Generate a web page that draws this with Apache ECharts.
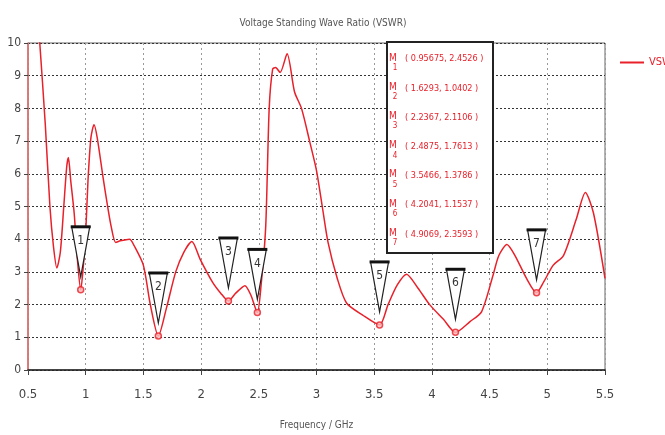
<!DOCTYPE html>
<html><head><meta charset="utf-8">
<script src="https://cdn.jsdelivr.net/npm/echarts@6/dist/echarts.min.js"></script>
<style>html,body{margin:0;padding:0;background:#fff}#c{width:665px;height:435px}</style>
</head><body><div id="c"></div>
<script>
const FONT = '"Liberation Sans Narrow","DejaVu Sans Condensed","Liberation Sans",sans-serif';
const freq = [0.5,0.6,0.65,0.69,0.72,0.75,0.78,0.81,0.835,0.85,0.87,0.9,0.93,0.957,0.98,1.0,1.02,1.045,1.072,1.1,1.15,1.19,1.22,1.26,1.3,1.38,1.42,1.5,1.56,1.6293,1.7,1.78,1.85,1.92,1.99,2.1,2.17,2.2367,2.3,2.38,2.43,2.4875,2.52,2.56,2.59,2.62,2.645,2.685,2.745,2.81,2.87,2.94,3.0,3.05,3.1,3.18,3.26,3.4,3.5466,3.62,3.7,3.78,3.88,3.98,4.1,4.2041,4.33,4.43,4.53,4.58,4.65,4.72,4.82,4.9069,4.97,5.05,5.14,5.25,5.33,5.4,5.5];
const vswr = [15,10.1,7.5,5.0,3.8,3.12,3.6,5.0,6.2,6.5,5.8,4.8,3.3,2.45,3.2,4.2,5.8,7.1,7.5,7.1,5.9,5.0,4.4,3.9,3.95,4.0,3.8,3.2,2.0,1.04,1.9,3.0,3.6,3.93,3.4,2.68,2.35,2.11,2.35,2.58,2.3,1.76,2.6,4.4,8.0,9.2,9.25,9.1,9.67,8.5,8.0,7.0,6.1,5.0,3.9,2.8,2.05,1.68,1.38,2.0,2.6,2.93,2.5,2.0,1.55,1.15,1.48,1.78,2.9,3.5,3.84,3.5,2.8,2.36,2.7,3.2,3.5,4.6,5.43,4.8,2.8];
const markerFreq = [0.95675,1.6293,2.2367,2.4875,3.5466,4.2041,4.9069];
const markerVSWR = [2.4526,1.0402,2.1106,1.7613,1.3786,1.1537,2.3593];
const markerIds = [1,2,3,4,5,6,7];
const xTicks = ['0.5','1','1.5','2','2.5','3','3.5','4','4.5','5','5.5'];

const RED = '#e8202a';
const chart = echarts.init(document.getElementById('c'));

const graphics = [{type:'rect', shape:{x:387,y:42,width:106,height:211}, style:{fill:'#fff',stroke:'#222',lineWidth:2}, z:100}];
markerIds.forEach((id,i)=>{
  const y = 58 + i*29.2;
  graphics.push({type:'text', x:393, y:y, z:101, style:{text:'M', font:'10px '+FONT, fill:RED, align:'center', verticalAlign:'middle'}});
  graphics.push({type:'text', x:395, y:y+10, z:101, style:{text:String(id), font:'8px '+FONT, fill:RED, align:'center', verticalAlign:'middle'}});
  graphics.push({type:'text', x:405, y:y+1, z:101, style:{text:'( '+markerFreq[i]+', '+markerVSWR[i]+' )', font:'9px '+FONT, fill:RED, align:'left', verticalAlign:'middle'}});
});

chart.setOption({
  animation:false,
  title:{text:'Voltage Standing Wave Ratio (VSWR)', left:318, textAlign:'center', top:13, textStyle:{fontSize:10, fontWeight:'normal', color:'#555', fontFamily:FONT}},
  legend:{data:['VSWR'], left:615, top:52, itemWidth:24, itemHeight:10, icon:'path://M0,4 L24,4 L24,6 L0,6 Z', textStyle:{color:RED, fontSize:11, fontFamily:FONT}, itemGap:2},
  grid:{left:28, right:60, top:43, bottom:58, show:true, borderColor:'#666', borderWidth:1},
  xAxis:{type:'value', min:0.5, max:5.5, interval:0.5, name:'Frequency / GHz', nameLocation:'middle', nameGap:50,
    nameTextStyle:{fontSize:10, color:'#555', fontFamily:FONT},
    axisLine:{lineStyle:{color:'#222', width:1.5}}, axisTick:{show:true, length:5, lineStyle:{color:'#444'}},
    axisLabel:{margin:18, fontSize:13, color:'#444', fontFamily:FONT, formatter:(v,i)=>xTicks[i]},
    splitLine:{show:true, lineStyle:{color:'#999', type:[2,3], width:1}}},
  yAxis:{type:'value', min:0, max:10, interval:1,
    axisLine:{show:true, lineStyle:{color:'#e86a6a', width:1.5}}, axisTick:{show:true, length:4, lineStyle:{color:'#444'}},
    axisLabel:{margin:7, fontSize:12, color:'#444', fontFamily:FONT},
    splitLine:{show:true, lineStyle:{color:'#333', type:[2,2], width:1}}},
  series:[
    {name:'VSWR', type:'line', data:freq.map((f,i)=>[f,vswr[i]]), smooth:0.25, symbol:'none', lineStyle:{color:RED, width:1.5}, itemStyle:{color:RED}, clip:true, z:3},
    {name:'markers', type:'scatter', data:markerFreq.map((f,i)=>[f,markerVSWR[i]]), symbol:'circle', symbolSize:6, itemStyle:{color:'#fbb', borderColor:RED, borderWidth:1.5}, z:4},
    {name:'labels', type:'custom', data:markerFreq.map((f,i)=>[f,markerVSWR[i],markerIds[i]]), z:5,
      renderItem:(params, api)=>{
        const p = api.coord([api.value(0), api.value(1)]);
        const tipY = p[1]-13, topY = tipY-50, hw = 9;
        return {type:'group', children:[
          {type:'polygon', shape:{points:[[p[0]-hw,topY],[p[0]+hw,topY],[p[0],tipY]]}, style:{fill:'#fff', stroke:'#222', lineWidth:1.2}},
          {type:'rect', shape:{x:p[0]-hw-1, y:topY-1.5, width:2*hw+2, height:3}, style:{fill:'#111'}},
          {type:'text', style:{text:String(api.value(2)), x:p[0], y:topY+14, align:'center', verticalAlign:'middle', font:'12px '+FONT, fill:'#333'}}
        ]};
      }}
  ],
  graphic: graphics
});
</script></body></html>
